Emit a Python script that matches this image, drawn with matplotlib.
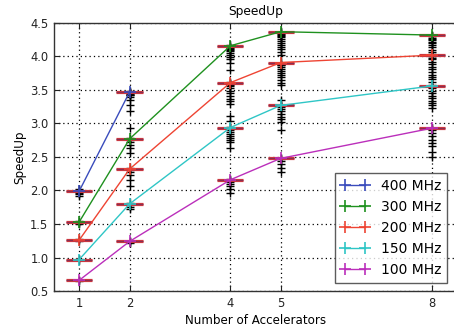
import matplotlib
matplotlib.use("Agg")
import matplotlib.pyplot as plt

# Accelerator counts on the x axis
accel = [1, 2, 4, 5, 8]
accel_400 = [1, 2]

# Mean speedup per clock frequency
speedup_400 = [1.99, 3.47]
speedup_300 = [1.53, 2.77, 4.16, 4.37, 4.32]
speedup_200 = [1.26, 2.32, 3.61, 3.91, 4.02]
speedup_150 = [0.97, 1.80, 2.94, 3.27, 3.56]
speedup_100 = [0.66, 1.24, 2.16, 2.48, 2.93]

# Individual run results, one list per accelerator count
samples_400 = [
    [2.02, 2.00, 1.99, 1.97, 1.95, 1.92],
    [3.49, 3.47, 3.46, 3.45, 3.44, 3.43, 3.42, 3.40, 3.35, 3.28, 3.18, 2.93],
]
samples_300 = [
    [1.54, 1.52, 1.50],
    [2.78, 2.76, 2.73, 2.68, 2.63, 2.56],
    [4.17, 4.15, 4.14, 4.12, 4.11, 4.09, 4.08, 4.05, 4.02, 3.99, 3.96, 3.90, 3.80],
    [4.37, 4.36, 4.35, 4.33, 4.32, 4.30, 4.29, 4.26, 4.23, 4.20, 4.17, 4.14,
     4.11, 4.07, 4.02],
    [4.32, 4.31, 4.30, 4.28, 4.26, 4.24, 4.22, 4.20, 4.17, 4.14, 4.10, 4.07],
]
samples_200 = [
    [1.27, 1.25],
    [2.33, 2.31, 2.28, 2.23, 2.16, 2.07],
    [3.62, 3.60, 3.59, 3.57, 3.56, 3.53, 3.49, 3.45, 3.41, 3.37, 3.33, 3.29,
     3.11, 3.03],
    [3.91, 3.90, 3.88, 3.87, 3.85, 3.82, 3.79, 3.76, 3.72, 3.69, 3.65, 3.61,
     3.57, 3.35],
    [4.03, 4.01, 4.00, 3.98, 3.96, 3.92, 3.89, 3.85, 3.81, 3.77, 3.73, 3.70,
     3.66, 3.62],
]
samples_150 = [
    [0.98, 0.96],
    [1.81, 1.79, 1.76, 1.72],
    [2.95, 2.93, 2.91, 2.88, 2.85, 2.82, 2.79, 2.76, 2.73, 2.64],
    [3.28, 3.26, 3.24, 3.21, 3.18, 3.14, 3.10, 3.06, 3.02, 2.90],
    [3.57, 3.55, 3.53, 3.49, 3.45, 3.41, 3.38, 3.34, 3.30, 3.27, 3.23],
]
samples_100 = [
    [0.67, 0.65],
    [1.25, 1.23, 1.21],
    [2.17, 2.15, 2.13, 2.10, 2.06, 2.02, 1.97],
    [2.49, 2.47, 2.44, 2.40, 2.33, 2.27],
    [2.94, 2.92, 2.90, 2.86, 2.81, 2.75, 2.71, 2.66, 2.57, 2.50],
]

labels = ["400 MHz", "300 MHz", "200 MHz", "150 MHz", "100 MHz"]
colors = ["#3a4cbc", "#1f911f", "#ee4433", "#2fc6c6", "#bb2fbb"]

series = [
    (accel_400, speedup_400, samples_400),
    (accel, speedup_300, samples_300),
    (accel, speedup_200, samples_200),
    (accel, speedup_150, samples_150),
    (accel, speedup_100, samples_100),
]

x_ticks = [1, 2, 4, 5, 8]
y_ticks = [0.5, 1.0, 1.5, 2.0, 2.5, 3.0, 3.5, 4.0, 4.5]

plt.rcParams["font.family"] = ["DejaVu Sans"]

fig = plt.figure(figsize=(4.54, 3.29), dpi=100)
ax = fig.add_axes([0.1189, 0.1155, 0.8880, 0.8146])

bar_half = 0.26
for xs, means, samples in series:
    # individual runs
    for x, vals in zip(xs, samples):
        ax.plot([x] * len(vals), vals, linestyle="none", marker="+",
                color="black", markersize=5.5, markeredgewidth=1.0, zorder=2)
    # mean bars
    for x, m in zip(xs, means):
        ax.hlines(m, x - bar_half, x + bar_half, colors="#d83a3e",
                  linewidth=2.3, zorder=3)
        ax.hlines(m, x - bar_half, x + bar_half, colors="#8a2e50",
                  linewidth=1.0, zorder=3)

handles = []
for (xs, means, _), lab, col in zip(series, labels, colors):
    h, = ax.plot(xs, means, color=col, linewidth=1.0, marker="+",
                 markersize=9, markeredgewidth=1.2, zorder=4, label=lab)
    handles.append(h)

ax.set_xlim(0.5, 8.5)
ax.set_ylim(0.5, 4.5)
ax.set_xticks(x_ticks)
ax.set_xticklabels([str(t) for t in x_ticks])
ax.set_yticks(y_ticks)
ax.set_yticklabels(["%.1f" % t for t in y_ticks])

ax.grid(True, color="black", linestyle=(0, (1, 2.5)), linewidth=0.9)
ax.set_axisbelow(True)

ax.tick_params(direction="in", top=True, right=False, length=4, width=0.8,
               labelsize=8.3, pad=4, colors="#222222")
for sp in ax.spines.values():
    sp.set_linewidth(1.0)
    sp.set_color("#333333")

ax.set_title("SpeedUp", fontsize=8.8, pad=6)
ax.set_xlabel("Number of Accelerators", fontsize=8.6, labelpad=3)
ax.set_ylabel("SpeedUp", fontsize=8.6, labelpad=3)

leg = ax.legend(handles=handles, loc="lower right",
                bbox_to_anchor=(0.976, 0.030), numpoints=2, fontsize=10,
                fancybox=False, frameon=True, handlelength=2.0,
                handletextpad=0.85, labelspacing=0.5, borderpad=0.45,
                borderaxespad=0.0)
leg.get_frame().set_edgecolor("#333333")
leg.get_frame().set_linewidth(1.0)
leg.set_zorder(10)

fig.savefig("out.png", dpi=100)
